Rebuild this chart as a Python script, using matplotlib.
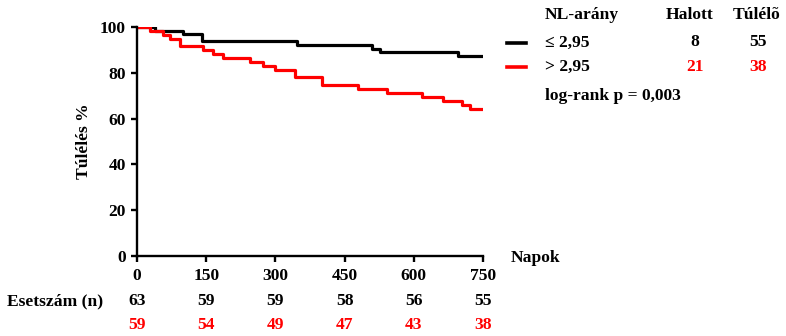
import matplotlib
matplotlib.use("Agg")
import matplotlib.pyplot as plt
import matplotlib.transforms as mtransforms

# Kaplan-Meier steps (day, survival %)
low_days = [0, 39, 100, 140, 346, 509, 527, 696, 750]
low_surv = [100, 98.4, 96.8, 93.7, 92.1, 90.5, 88.9, 87.3, 87.3]
high_days = [0, 28, 56, 72, 93, 143, 165, 186, 245, 273, 299, 342, 401,
             479, 542, 618, 663, 705, 722, 750]
high_surv = [100, 98.3, 96.6, 94.9, 91.5, 89.8, 88.1, 86.4, 84.7, 83.1, 81.4,
             78.0, 74.6, 72.9, 71.2, 69.5, 67.8, 66.1, 64.4, 64.4]

x_ticks = [0, 150, 300, 450, 600, 750]
y_ticks = [0, 20, 40, 60, 80, 100]
at_risk_low = [63, 59, 59, 58, 56, 55]
at_risk_high = [59, 54, 49, 47, 43, 38]

group_labels = ["≤ 2,95", "> 2,95"]
dead = [8, 21]
alive = [55, 38]
colors = ["black", "#ff0000"]

FS = 12.6
plt.rcParams["font.family"] = ["Liberation Serif", "DejaVu Serif"]
plt.rcParams["font.weight"] = "bold"
plt.rcParams["font.size"] = FS

fig = plt.figure(figsize=(7.86, 3.36), dpi=100)
ax = fig.add_axes([137 / 786, 80 / 336, 346 / 786, 229 / 336])

ax.step(low_days, low_surv, where="post", color=colors[0], lw=2.3)
ax.step(high_days, high_surv, where="post", color=colors[1], lw=2.3)

ax.set_xlim(0, 750)
ax.set_ylim(0, 100)
ax.set_xticks(x_ticks)
ax.set_yticks(y_ticks)
for s in ["top", "right"]:
    ax.spines[s].set_visible(False)
for s in ["left", "bottom"]:
    ax.spines[s].set_linewidth(1.7)
ax.tick_params(direction="out", length=4, width=1.7, labelsize=FS, pad=4)
ax.tick_params(axis="x", pad=5)
for lab in ax.get_xticklabels() + ax.get_yticklabels():
    lab.set_fontweight("bold")

fig.text(84 / 786, 1 - 141 / 336, "Túlélés %", rotation=90, ha="center",
         va="center", fontsize=FS, fontweight="bold")
fig.text(536 / 786, 1 - 258 / 336, "Napok", ha="center", va="center",
         fontsize=FS, fontweight="bold")

# number-at-risk table under the axis
trans = mtransforms.blended_transform_factory(ax.transData, fig.transFigure)
fig.text(7 / 786, 1 - 301 / 336, "Esetszám (n)", ha="left", va="center",
         fontsize=FS, fontweight="bold")
for x, n1, n2 in zip(x_ticks, at_risk_low, at_risk_high):
    ax.text(x, 1 - 301 / 336, str(n1), transform=trans, ha="center",
            va="center", fontsize=FS, fontweight="bold", color=colors[0])
    ax.text(x, 1 - 325 / 336, str(n2), transform=trans, ha="center",
            va="center", fontsize=FS, fontweight="bold", color=colors[1])

# legend table on the right
fig.text(545 / 786, 1 - 15 / 336, "NL-arány", ha="left", va="center")
fig.text(690 / 786, 1 - 15 / 336, "Halott", ha="center", va="center")
fig.text(757 / 786, 1 - 15 / 336, "Túlélõ", ha="center", va="center")
row_y = [42.5, 67]
for lab, d, a, c, yy in zip(group_labels, dead, alive, colors, row_y):
    fy = 1 - yy / 336
    fig.add_artist(plt.Line2D([507 / 786, 526 / 786], [fy, fy], color=c,
                              lw=2.6, transform=fig.transFigure))
    fig.text(545 / 786, fy, lab, ha="left", va="center", color="black")
    fig.text(695 / 786, fy, str(d), ha="center", va="center", color=c)
    fig.text(758 / 786, fy, str(a), ha="center", va="center", color=c)
fig.text(545 / 786, 1 - 96 / 336, "log-rank p = 0,003", ha="left", va="center")

fig.savefig("out.png", dpi=100)
